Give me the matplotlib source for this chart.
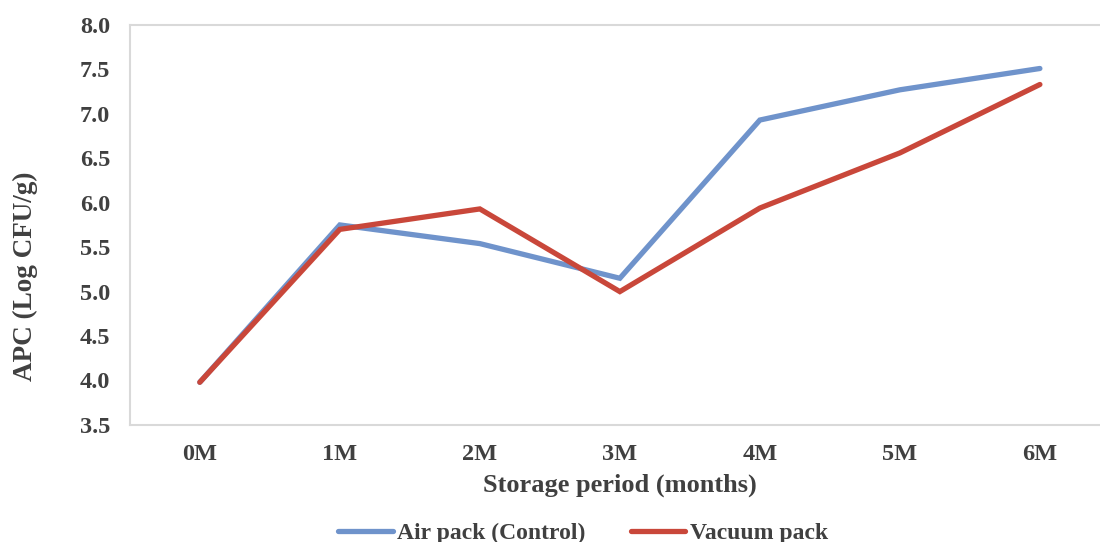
import matplotlib.pyplot as plt

months = ["0M", "1M", "2M", "3M", "4M", "5M", "6M"]
air_pack = [3.98, 5.75, 5.54, 5.15, 6.93, 7.27, 7.51]
vacuum_pack = [3.98, 5.70, 5.93, 5.00, 5.94, 6.56, 7.33]
y_ticks = [3.5, 4.0, 4.5, 5.0, 5.5, 6.0, 6.5, 7.0, 7.5, 8.0]

plt.rcParams['font.family'] = ['Liberation Serif', 'DejaVu Serif']
text_color = "#404040"

fig = plt.figure(figsize=(11, 5.42), dpi=100)
ax = fig.add_axes([0.118, 0.216, 0.891, 0.738])

x = list(range(len(months)))
ax.plot(x, air_pack, color="#6f93cb", lw=3.8, solid_capstyle="round",
        solid_joinstyle="miter", label="Air pack (Control)")
ax.plot(x, vacuum_pack, color="#c9473a", lw=3.8, solid_capstyle="round",
        solid_joinstyle="miter", label="Vacuum pack")

ax.set_xlim(-0.5, len(months) - 0.5)
ax.set_ylim(3.5, 8.0)
ax.set_xticks(x)
ax.set_xticklabels(months)
ax.set_yticks(y_ticks)
ax.set_yticklabels([f"{v:.1f}" for v in y_ticks])
ax.tick_params(length=0, labelsize=17.5, colors=text_color)
for lab in ax.get_xticklabels() + ax.get_yticklabels():
    lab.set_fontweight("bold")
ax.tick_params(axis="x", pad=14)
ax.tick_params(axis="y", pad=14)

for s in ax.spines.values():
    s.set_color("#d9d9d9")
    s.set_linewidth(1.5)

ax.set_xlabel("Storage period (months)", fontsize=19, fontweight="bold",
              color=text_color, labelpad=6)
ax.set_ylabel("APC (Log CFU/g)", fontsize=19.5, fontweight="bold",
              color=text_color)
# Excel places the axis title lower than the plot centre
ax.yaxis.set_label_coords(-0.094, 0.3725)

leg = fig.legend(loc="center", bbox_to_anchor=(0.53, 1 - 533 / 542), ncol=2,
                 frameon=False, fontsize=17, handlelength=2.3,
                 handletextpad=0.2, columnspacing=1.9)
for t in leg.get_texts():
    t.set_fontweight("bold")
    t.set_color(text_color)

fig.savefig("out.png", dpi=100)
